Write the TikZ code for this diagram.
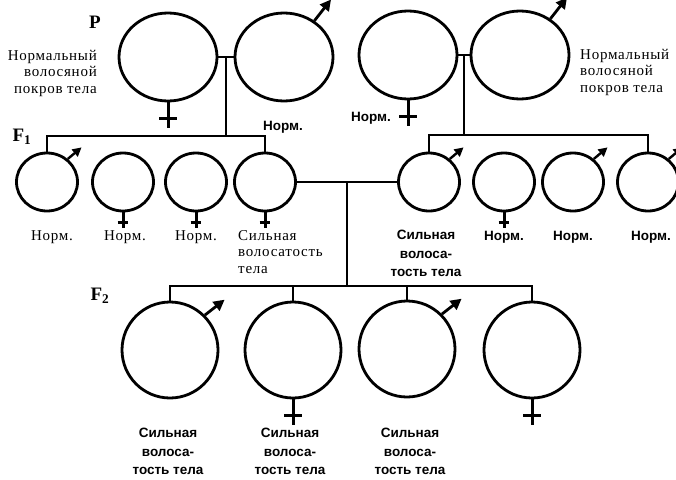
\documentclass[tikz,border=0pt]{standalone}
\usepackage{fontspec}
\setmainfont{Liberation Serif}
\setsansfont{Liberation Sans}
\newfontfamily\spacedserif[LetterSpace=5]{Liberation Serif}
\usetikzlibrary{shapes.geometric, positioning, arrows.meta}
\tikzset{
x=1pt, y=1pt, % one unit is one pixel of the scan
person/.style={ellipse, draw, line width=2.8pt, inner sep=0pt}, % every individual
big/.style={person, minimum width=98pt, minimum height=88pt}, % parents
small/.style={person, minimum width=61pt, minimum height=58pt}, % first generation
mid/.style={person, minimum width=96pt, minimum height=96pt}, % second generation
line/.style={line width=1.4pt}, % lines of descent
male/.style={line width=2.8pt, -{Triangle[length=11pt, width=11pt]}}, % mars sign
smallmale/.style={line width=2.4pt, -{Triangle[length=9pt, width=9pt]}},
female/.pic={\draw[line width=3pt] (0,0) -- (0,-26) (-9,-16) -- (9,-16);}, % venus sign
note/.style={font=\spacedserif\fontsize{15}{16.5}\selectfont, inner sep=0pt},
bold/.style={font=\sffamily\bfseries\fontsize{13.5}{18.5}\selectfont, inner sep=0pt, align=center},
gen/.style={font=\bfseries\fontsize{19}{19}\selectfont, inner sep=0pt},
}
\begin{document}
\begin{tikzpicture}
    \useasboundingbox (0,0) rectangle (676,-479);

    % P
    \node[big] (p1) at (168,-57) {};
    \node[big] (p2) at (284,-57) {};
    \node[big] (p3) at (408,-55) {};
    \node[big] (p4) at (520,-55) {};

    % F1
    \node[small] (f1a) at (47,-182) {};
    \node[small] (f1b) at (123,-182) {};
    \node[small] (f1c) at (196,-182) {};
    \node[small] (f1d) at (265,-182) {};
    \node[small] (f1e) at (429,-182) {};
    \node[small] (f1f) at (504,-182) {};
    \node[small] (f1g) at (573,-182) {};
    \node[small] (f1h) at (648,-182) {};

    % F2
    \node[mid] (f2a) at (170,-350) {};
    \node[mid] (f2b) at (293,-350) {};
    \node[mid] (f2c) at (407,-349) {};
    \node[mid] (f2d) at (532,-350) {};

    % sex signs
    \draw[male] (p2.50) -- ++(52:27);
    \draw[male] (p4.50) -- ++(52:27);
    \draw[smallmale] (f1a.48) -- ++(40:18);
    \draw[smallmale] (f1e.48) -- ++(40:18);
    \draw[smallmale] (f1g.48) -- ++(40:18);
    \draw[smallmale] (f1h.48) -- ++(40:18);
    \draw[male] (f2a.45) -- ++(38:25);
    \draw[male] (f2c.45) -- ++(38:25);
    \pic at (p1.south) {female};
    \pic at (p3.south) {female};
    \pic[scale=.6] at (f1b.south) {female};
    \pic[scale=.6] at (f1c.south) {female};
    \pic[scale=.6] at (f1d.south) {female};
    \pic[scale=.6] at (f1f.south) {female};
    \pic at (f2b.south) {female};
    \pic at (f2d.south) {female};

    % lines of descent
    \draw[line] (p1.east) -- coordinate (m1) (p2.west);
    \draw[line] (m1) -- ++(0,-79) coordinate (k1);
    \draw[line] (f1a.north) |- (k1) -| (f1d.north);
    \draw[line] (p3.east) -- coordinate (m2) (p4.west);
    \draw[line] (m2) -- ++(0,-80) coordinate (k2);
    \draw[line] (f1e.north) |- (k2) -| (f1h.north);
    \draw[line] (f1d.east) -- coordinate (m3) (f1e.west);
    \draw[line] (m3) -- ++(0,-104) coordinate (k3);
    \draw[line] (f2a.north) |- (k3) -| (f2d.north);
    \draw[line] (f2b.north) -- (f2b.north |- k3);
    \draw[line] (f2c.north) -- (f2c.north |- k3);

    % generations
    \node[gen] (gp) at (95,-22) {P};
    \node[gen] (gf1) at (22,-137) {F$_{\mathbf{1}}$};
    \node[gen] (gf2) at (100,-296) {F$_{\mathbf{2}}$};

    % labels
    \node[note, anchor=east, align=right] (tp1) at (97,-73) {Нормальный\\волосяной\\покров тела};
    \node[bold] (tp2) at (283,-127) {Норм.};
    \node[bold] (tp3) at (371,-118) {Норм.};
    \node[note, anchor=west, align=left] (tp4) at (580,-72) {Нормальный\\волосяной\\покров тела};
    \node[note] (ta) at (52,-237) {Норм.};
    \node[note] (tb) at (125,-237) {Норм.};
    \node[note] (tc) at (196,-237) {Норм.};
    \node[note, anchor=north west, align=left] (td) at (238,-230) {Сильная\\волосатость\\тела};
    \node[bold, anchor=north] (te) at (426,-230) {Сильная\\волоса-\\тость тела};
    \node[bold] (tf) at (504,-237) {Норм.};
    \node[bold] (tg) at (573,-237) {Норм.};
    \node[bold] (th) at (651,-237) {Норм.};
    \node[bold, anchor=north] (ua) at (168,-428) {Сильная\\волоса-\\тость тела};
    \node[bold, anchor=north] (ub) at (290,-428) {Сильная\\волоса-\\тость тела};
    \node[bold, anchor=north] (uc) at (410,-428) {Сильная\\волоса-\\тость тела};
\end{tikzpicture}
\end{document}
